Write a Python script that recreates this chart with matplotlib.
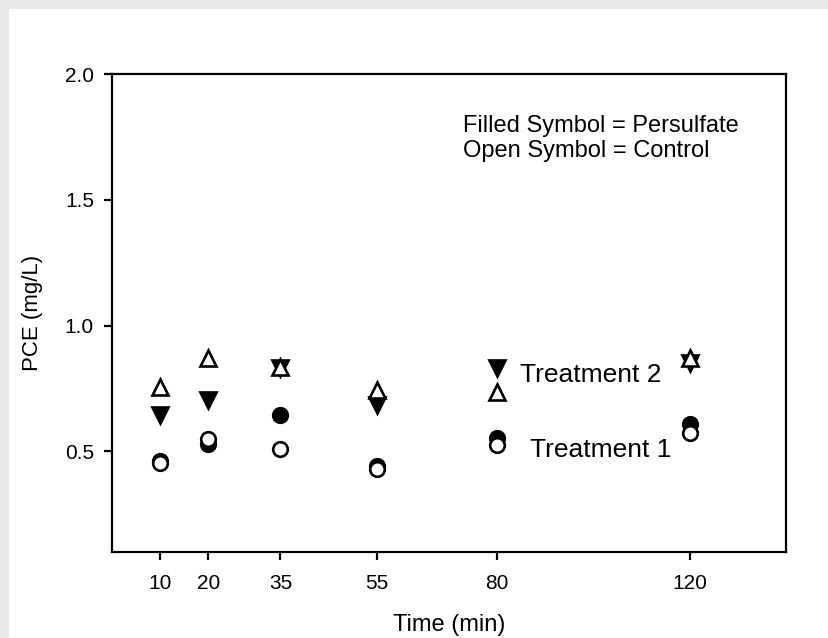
import matplotlib
matplotlib.use("Agg")
import matplotlib.pyplot as plt
from matplotlib.patches import Rectangle

plt.rcParams["font.family"] = ["Liberation Sans", "DejaVu Sans"]

# PCE concentration (mg/L) over time, persulfate (filled) vs control (open)
time_min = [10, 20, 35, 55, 80, 120]
t1_persulfate = [0.46, 0.53, 0.645, 0.44, 0.555, 0.61]
t1_control = [0.455, 0.55, 0.51, 0.43, 0.525, 0.575]
t2_persulfate = [0.645, 0.705, 0.83, 0.685, 0.83, 0.85]
t2_control = [0.755, 0.87, 0.835, 0.745, 0.735, 0.87]

fig = plt.figure(figsize=(8.29, 6.38), dpi=100, facecolor="#e8e8e8")
# white page inside the grey frame, kept behind the axes
fig.patches.append(Rectangle((9 / 829, 0), 1, 1 - 9 / 638, transform=fig.transFigure,
                             facecolor="white", edgecolor="none", zorder=-10))
ax = fig.add_axes([112 / 829, 1 - 552 / 638, (786 - 112) / 829, (552 - 74) / 638])
ax.set_facecolor("white")

# filled (persulfate) first, open (control) symbols on top
ms_tri, ms_circ, mew = 12, 10.5, 1.9
ax.plot(time_min, t2_persulfate, ls="none", marker="v", ms=ms_tri, mfc="black", mec="black", mew=mew, zorder=3)
ax.plot(time_min, t2_control, ls="none", marker="^", ms=ms_tri, mfc="white", mec="black", mew=mew, zorder=4)
ax.plot(time_min, t1_persulfate, ls="none", marker="o", ms=ms_circ, mfc="black", mec="black", mew=mew, zorder=3)
ax.plot(time_min, t1_control, ls="none", marker="o", ms=ms_circ, mfc="white", mec="black", mew=mew, zorder=4)

ax.set_xlim(0, 140)
ax.set_ylim(0.1, 2.0)
ax.set_xticks(time_min)
ax.set_yticks([0.5, 1.0, 1.5, 2.0])
ax.set_yticklabels(["0.5", "1.0", "1.5", "2.0"])
for s in ax.spines.values():
    s.set_linewidth(1.6)
ax.tick_params(direction="out", length=6, width=1.6, labelsize=15)
ax.tick_params(axis="y", pad=7)
ax.tick_params(axis="x", pad=10)

ax.set_xlabel("Time (min)", fontsize=17, labelpad=15)
ax.set_ylabel("PCE (mg/L)", fontsize=16, labelpad=16)

ax.text(72.9, 1.769, "Filled Symbol = Persulfate", fontsize=17, va="baseline")
ax.text(72.9, 1.670, "Open Symbol = Control", fontsize=17, va="baseline")
ax.text(84.7, 0.774, "Treatment 2", fontsize=19, va="baseline")
ax.text(86.8, 0.476, "Treatment 1", fontsize=19, va="baseline")

fig.savefig("out.png", dpi=100, facecolor=fig.get_facecolor())
